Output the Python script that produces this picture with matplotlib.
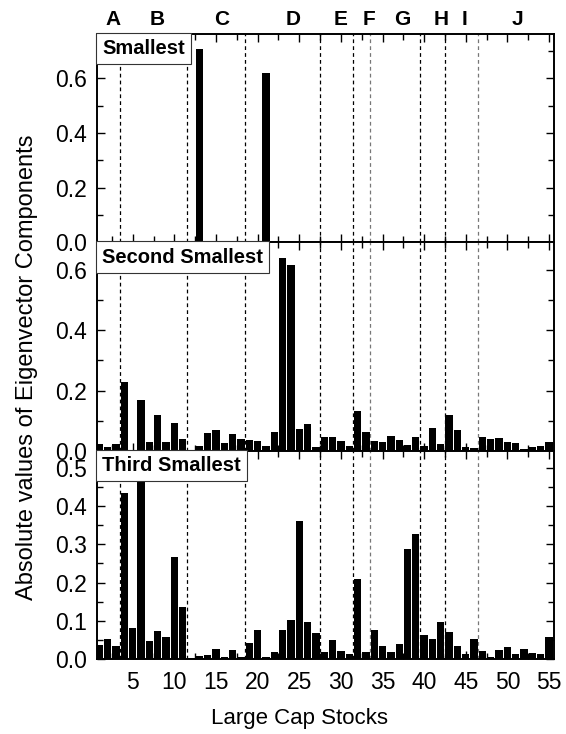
import numpy as np
import matplotlib
matplotlib.use('Agg')
import matplotlib.pyplot as plt
from matplotlib.ticker import MultipleLocator

plt.rcParams['font.family'] = ['Liberation Sans', 'DejaVu Sans']

# stock index 1..55
stocks = np.arange(1, 56)

# smallest eigenvector (only two non-zero components)
smallest = np.zeros(55)
smallest[12] = 0.707
smallest[20] = 0.619

second_smallest = [
    0.022, 0.013, 0.022, 0.228, 0.003, 0.169, 0.030, 0.120, 0.028, 0.091,
    0.039, 0.003, 0.016, 0.060, 0.069, 0.024, 0.056, 0.039, 0.037, 0.032,
    0.017, 0.062, 0.641, 0.616, 0.072, 0.090, 0.011, 0.047, 0.047, 0.033,
    0.017, 0.133, 0.063, 0.033, 0.029, 0.050, 0.036, 0.020, 0.046, 0.014,
    0.077, 0.023, 0.119, 0.070, 0.011, 0.009, 0.047, 0.039, 0.043, 0.028,
    0.027, 0.007, 0.013, 0.017, 0.029,
]

third_smallest = [
    0.037, 0.053, 0.034, 0.434, 0.081, 0.520, 0.046, 0.072, 0.058, 0.268,
    0.136, 0.003, 0.009, 0.011, 0.025, 0.006, 0.024, 0.004, 0.043, 0.076,
    0.005, 0.018, 0.075, 0.103, 0.361, 0.097, 0.068, 0.018, 0.049, 0.020,
    0.013, 0.210, 0.017, 0.075, 0.034, 0.019, 0.039, 0.289, 0.327, 0.062,
    0.052, 0.096, 0.070, 0.033, 0.013, 0.053, 0.021, 0.004, 0.024, 0.031,
    0.014, 0.025, 0.016, 0.013, 0.057,
]

# sector boundaries and sector letters
boundaries = [3.5, 11.5, 18.5, 27.5, 31.5, 33.5, 39.5, 42.5, 46.5]
boundary_colors = ['k', 'k', 'k', 'k', 'k', '#777777', 'k', 'k', '#777777']
sectors = ['A', 'B', 'C', 'D', 'E', 'F', 'G', 'H', 'I', 'J']
sector_x = [2.6, 7.9, 15.7, 24.2, 29.9, 33.4, 37.4, 42.0, 44.8, 51.2]

panels = [
    ('Smallest', smallest, 0.763, 0.2, 0.1),
    ('Second Smallest', second_smallest, 0.693, 0.2, 0.1),
    ('Third Smallest', third_smallest, 0.545, 0.1, 0.05),
]

fig = plt.figure(figsize=(5.66, 7.34), dpi=100)
fig.subplots_adjust(left=0.1714, right=0.9788, top=0.9537, bottom=0.1022, hspace=0)
axes = fig.subplots(3, 1, sharex=True)

for ax, (name, vals, ytop, major, minor) in zip(axes, panels):
    ax.bar(stocks, vals, width=0.88, color='black', edgecolor='none', zorder=2)
    for b, c in zip(boundaries, boundary_colors):
        ax.axvline(b, color=c, lw=0.9, ls=(0, (3, 2.5)), zorder=1)
    ax.set_ylim(0, ytop)
    ax.set_xlim(0.7, 55.6)
    ax.yaxis.set_major_locator(MultipleLocator(major))
    ax.yaxis.set_minor_locator(MultipleLocator(minor))
    ax.xaxis.set_major_locator(MultipleLocator(5))
    ax.xaxis.set_minor_locator(MultipleLocator(2.5))
    ax.yaxis.set_major_formatter(plt.FormatStrFormatter('%.1f'))
    ax.tick_params(which='both', direction='in', top=True, right=True,
                   width=1.0, labelsize=16.5)
    ax.tick_params(which='major', length=6)
    ax.tick_params(which='minor', length=4)
    ax.tick_params(axis='y', pad=7)
    ax.tick_params(axis='x', pad=9)
    for s in ax.spines.values():
        s.set_linewidth(1.4)
    ax.text(0.012, 0.975, name, transform=ax.transAxes, ha='left', va='top',
            fontsize=14.5, fontweight='bold', zorder=5,
            bbox=dict(boxstyle='square,pad=0.3', fc='white', ec='#333333', lw=0.8))

for lab, x in zip(sectors, sector_x):
    axes[0].text(x, 1.045, lab, transform=axes[0].get_xaxis_transform(),
                 ha='center', va='baseline', fontsize=15, fontweight='bold')

fig.text(0.048, 0.5, 'Absolute values of Eigenvector Components', rotation=90,
         ha='center', va='center', fontsize=17)
fig.text(0.53, 0.021, 'Large Cap Stocks', ha='center', va='center', fontsize=16)

fig.savefig('out.png', dpi=100)
